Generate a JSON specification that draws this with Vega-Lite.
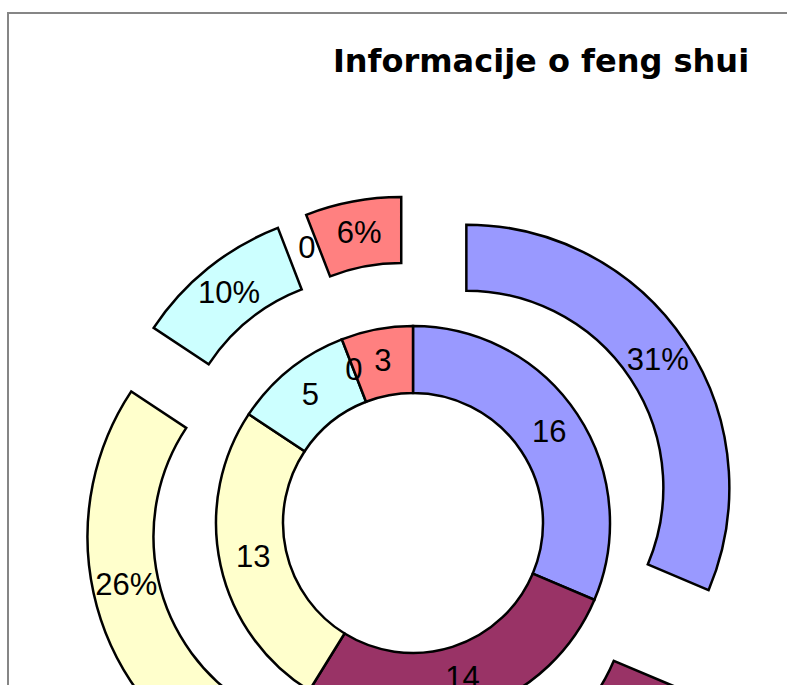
{
  "$schema": "https://vega.github.io/schema/vega-lite/v6.json",
  "width": 810,
  "height": 1020,
  "autosize": "none",
  "padding": {"left": 8, "top": 13, "right": 0, "bottom": 0},
  "background": "white",
  "title": {
    "text": "Informacije o feng shui",
    "font": "DejaVu Sans",
    "fontSize": 32,
    "fontWeight": "bold",
    "color": "black",
    "anchor": "middle",
    "baseline": "alphabetic",
    "offset": 0,
    "dx": 128,
    "dy": 91
  },
  "config": {
    "view": {"stroke": "#868686", "strokeWidth": 2}
  },
  "data": {
    "values": [
      {"cat": "Kategorija 1", "order": 1, "value": 16, "lbl": "31%"},
      {"cat": "Kategorija 2", "order": 2, "value": 14, "lbl": "27%"},
      {"cat": "Kategorija 3", "order": 3, "value": 13, "lbl": "26%"},
      {"cat": "Kategorija 4", "order": 4, "value": 5, "lbl": "10%"},
      {"cat": "Kategorija 5", "order": 5, "value": 0, "lbl": "0"},
      {"cat": "Kategorija 6", "order": 6, "value": 3, "lbl": "6%"}
    ]
  },
  "transform": [
    {"window": [{"op": "sum", "field": "value", "as": "cum"}], "sort": [{"field": "order", "order": "ascending"}], "frame": [null, 0]},
    {"joinaggregate": [{"op": "sum", "field": "value", "as": "total"}]},
    {"calculate": "2*PI*(datum.cum-datum.value)/datum.total", "as": "t0"},
    {"calculate": "2*PI*datum.cum/datum.total", "as": "t1"},
    {"calculate": "(datum.t0+datum.t1)/2", "as": "mid"},
    {"calculate": "64*sin(datum.mid)", "as": "ex"},
    {"calculate": "64*cos(datum.mid)", "as": "ey"}
  ],
  "layer": [
    {
      "transform": [{"filter": "datum.value > 0"}],
      "mark": {"type": "arc", "radius": 197, "radius2": 130, "stroke": "black", "strokeWidth": 2.5},
      "encoding": {
        "theta": {"field": "t0", "type": "quantitative", "scale": null, "stack": null},
        "theta2": {"field": "t1"},
        "color": {
          "field": "cat", "type": "nominal", "legend": null,
          "scale": {
            "domain": ["Kategorija 1", "Kategorija 2", "Kategorija 3", "Kategorija 4", "Kategorija 5", "Kategorija 6"],
            "range": ["#9999FF", "#993366", "#FFFFCC", "#CCFFFF", "#660066", "#FF8080"]
          }
        }
      }
    },
    {
      "transform": [{"filter": "datum.value > 0"}],
      "mark": {"type": "arc", "radius": 263, "radius2": 197, "stroke": "black", "strokeWidth": 2.5},
      "encoding": {
        "x": {"field": "ex", "type": "quantitative", "axis": null, "scale": {"domain": [-405, 405], "nice": false, "zero": false}},
        "y": {"field": "ey", "type": "quantitative", "axis": null, "scale": {"domain": [-510, 510], "nice": false, "zero": false}},
        "theta": {"field": "t0", "type": "quantitative", "scale": null, "stack": null},
        "theta2": {"field": "t1"},
        "color": {"field": "cat", "type": "nominal", "legend": null}
      }
    },
    {
      "mark": {"type": "text", "radius": 163.5, "font": "Liberation Sans", "fontSize": 31, "color": "black", "align": "center", "baseline": "middle"},
      "encoding": {
        "theta": {"field": "mid", "type": "quantitative", "scale": null, "stack": null},
        "text": {"field": "value", "type": "quantitative"}
      }
    },
    {
      "mark": {"type": "text", "radius": 293.5, "font": "Liberation Sans", "fontSize": 31, "color": "black", "align": "center", "baseline": "middle"},
      "encoding": {
        "theta": {"field": "mid", "type": "quantitative", "scale": null, "stack": null},
        "text": {"field": "lbl", "type": "nominal"}
      }
    }
  ]
}
